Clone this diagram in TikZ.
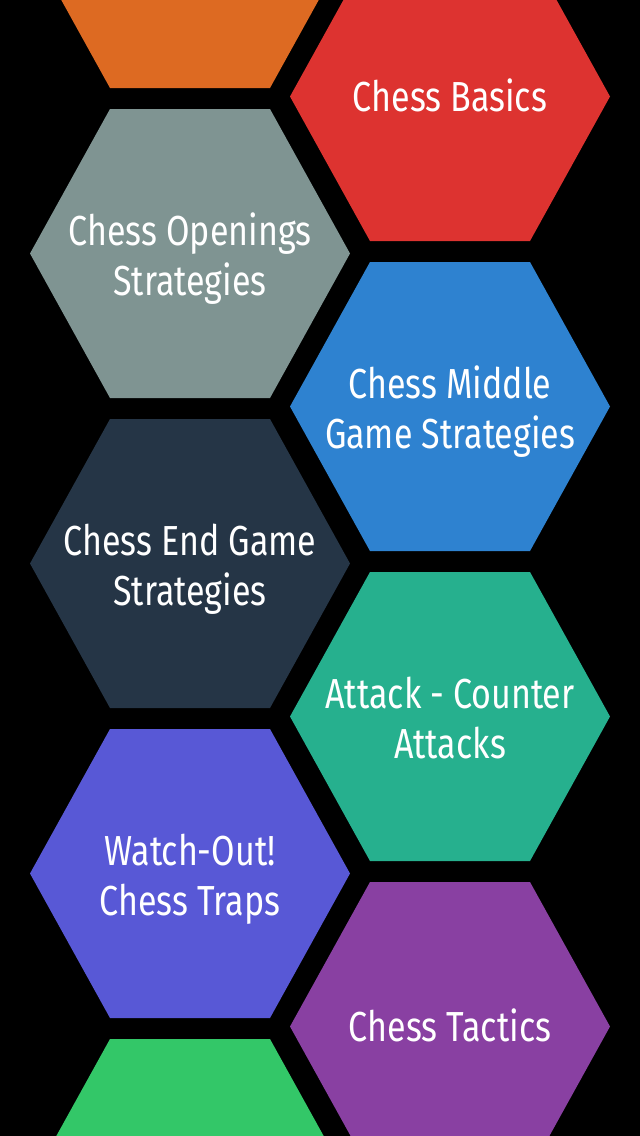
\documentclass[tikz,border=0pt]{standalone}
\usepackage{fontspec}
\setmainfont{Fira Sans}[FakeStretch=0.81]
\usetikzlibrary{positioning}

\definecolor{hexorange}{HTML}{DD6A22}
\definecolor{hexred}{HTML}{DD3330}
\definecolor{hexgray}{HTML}{7F9492}
\definecolor{hexblue}{HTML}{2E82D0}
\definecolor{hexdark}{HTML}{253546}
\definecolor{hexteal}{HTML}{26B08E}
\definecolor{hexviolet}{HTML}{5858D6}
\definecolor{hexpurple}{HTML}{8940A2}
\definecolor{hexgreen}{HTML}{33C768}

\tikzset{
  hexlabel/.style={font=\fontsize{42}{50}\selectfont,text=white,align=center,inner sep=0pt,anchor=center}
}

\begin{document}
\begin{tikzpicture}[x=1pt,y=-1pt]
\fill[black] (0,0) rectangle (640,1136);
\useasboundingbox (0,0) rectangle (640,1136);

% left column
\fill[hexorange] (30,-56.5) -- (110,-201) -- (270,-201) -- (350,-56.5) -- (270,88) -- (110,88) -- cycle;
\fill[hexgray] (30,253.5) -- (110,109) -- (270,109) -- (350,253.5) -- (270,398) -- (110,398) -- cycle;
\fill[hexdark] (30,563.5) -- (110,419) -- (270,419) -- (350,563.5) -- (270,708) -- (110,708) -- cycle;
\fill[hexviolet] (30,873.5) -- (110,729) -- (270,729) -- (350,873.5) -- (270,1018) -- (110,1018) -- cycle;
\fill[hexgreen] (30,1183.5) -- (110,1039) -- (270,1039) -- (350,1183.5) -- (270,1328) -- (110,1328) -- cycle;

% right column
\fill[hexred] (290,96.5) -- (370,-48) -- (530,-48) -- (610,96.5) -- (530,241) -- (370,241) -- cycle;
\fill[hexblue] (290,406.5) -- (370,262) -- (530,262) -- (610,406.5) -- (530,551) -- (370,551) -- cycle;
\fill[hexteal] (290,716.5) -- (370,572) -- (530,572) -- (610,716.5) -- (530,861) -- (370,861) -- cycle;
\fill[hexpurple] (290,1026.5) -- (370,882) -- (530,882) -- (610,1026.5) -- (530,1171) -- (370,1171) -- cycle;

\node[hexlabel] (openings) at (190,259) {Chess Openings\\Strategies};
\node[hexlabel] (endgame) at (190,569) {Chess End Game\\Strategies};
\node[hexlabel] (traps) at (190,879) {Watch-Out!\\Chess Traps};

\node[hexlabel] (basics) at (450,95) {Chess Basics};
\node[hexlabel] (middle) at (450,412) {Chess Middle\\Game Strategies};
\node[hexlabel] (attacks) at (450,718) {Attack - Counter\\Attacks};
\node[hexlabel] (tactics) at (450,1025) {Chess Tactics};

\end{tikzpicture}
\end{document}
